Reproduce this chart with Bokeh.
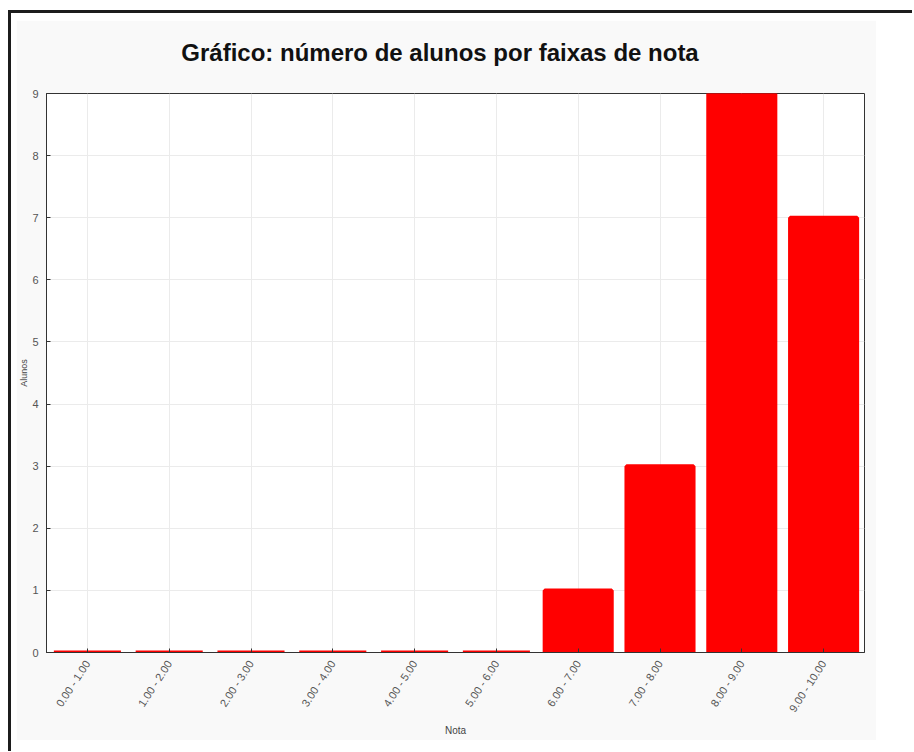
import math
from bokeh.plotting import figure
from bokeh.models import ColumnDataSource, FactorRange, Range1d, Title
from bokeh.layouts import column
from bokeh.embed import file_html
from bokeh.resources import INLINE

categories = ["0.00 - 1.00", "1.00 - 2.00", "2.00 - 3.00", "3.00 - 4.00", "4.00 - 5.00",
              "5.00 - 6.00", "6.00 - 7.00", "7.00 - 8.00", "8.00 - 9.00", "9.00 - 10.00"]
alunos = [0, 0, 0, 0, 0, 0, 1, 3, 9, 7]
y_ticks = [0, 1, 2, 3, 4, 5, 6, 7, 8, 9]
title_text = "Gráfico: número de alunos por faixas de nota"

FONT = "Liberation Sans"

src = ColumnDataSource(data=dict(cat=categories, val=alunos))

p = figure(width=860, height=720, x_range=FactorRange(*categories), y_range=Range1d(0, 9),
           output_backend="svg", toolbar_location=None,
           min_border_left=30, min_border_right=12, min_border_top=73, min_border_bottom=88)

# padding given as (left, right, top, bottom)
p.title = Title(text=title_text, align="center", text_font=FONT, text_font_size="24px",
                text_font_style="bold", text_color="#111111", standoff=0,
                padding=(0, 31, 0, 28))

p.background_fill_color = "white"
p.border_fill_color = "#f9f9f9"
p.outline_line_color = "#333333"
p.outline_line_width = 1

p.vbar(x="cat", top="val", width=0.82, source=src, fill_color="#ff0000",
       line_color="#ff0000", line_width=4)

for ax in (p.xaxis[0], p.yaxis[0]):
    ax.axis_line_color = "#333333"
    ax.major_tick_line_color = "#333333"
    ax.major_tick_in = 4
    ax.major_tick_out = 0
    ax.minor_tick_in = 0
    ax.minor_tick_out = 0
    ax.minor_tick_line_color = None
    ax.major_label_text_font = FONT
    ax.major_label_text_font_size = "11px"
    ax.major_label_text_color = "#555555"
    ax.axis_label_text_font = FONT
    ax.axis_label_text_font_size = "10px"
    ax.axis_label_text_font_style = "normal"
    ax.axis_label_text_color = "#444444"

p.yaxis.ticker = y_ticks
p.yaxis.axis_label = "Alunos"
p.yaxis.axis_label_text_font_size = "9px"
p.yaxis.major_label_standoff = 8
p.yaxis.axis_label_standoff = 0
p.xaxis.axis_label = "Nota"
p.xaxis.major_label_orientation = math.radians(57)
p.xaxis.major_label_standoff = 9
p.xaxis.axis_label_standoff = 5

p.xgrid.grid_line_color = "#ebebeb"
p.ygrid.grid_line_color = "#ebebeb"

layout = column(p, styles={"border-top": "3px solid #1c1c1c", "border-left": "3px solid #1c1c1c",
                           "padding": "7px 36px 11px 5px", "margin-top": "10px", "margin-left": "8px"})

open("out.html", "w").write(file_html(layout, INLINE))
